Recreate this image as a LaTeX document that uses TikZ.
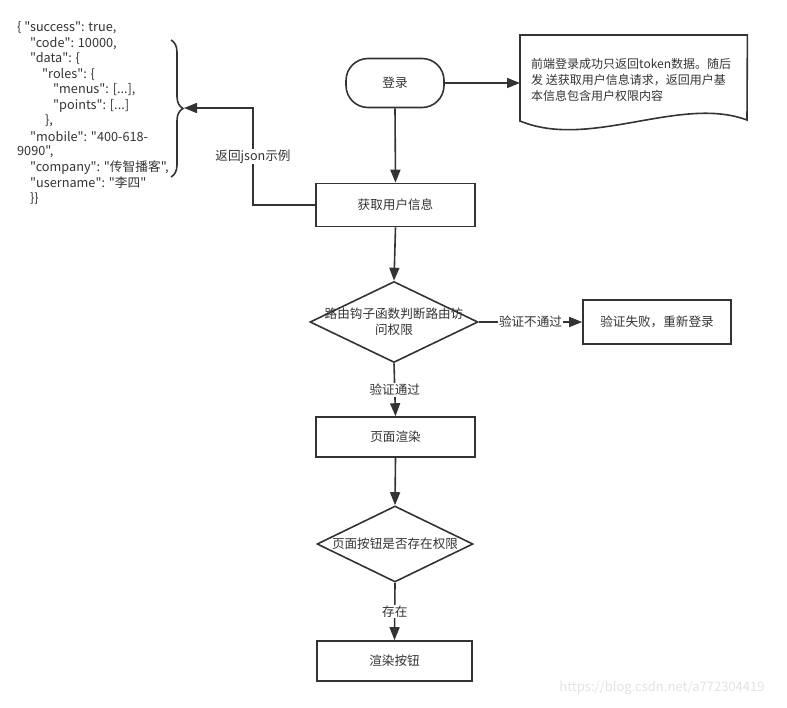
\documentclass[tikz,border=0pt]{standalone}
\usepackage{fontspec}
\setmainfont{Noto Sans CJK SC}[Ligatures=TeXOff]
\usepackage{tikz}
\usetikzlibrary{arrows.meta,shapes.geometric,decorations.pathreplacing}
\definecolor{ink}{HTML}{333333}
\definecolor{faint}{HTML}{E2E2E2}

\begin{document}
\begin{tikzpicture}[x=1pt,y=-1pt,
    every node/.style={font=\fontsize{12.6}{16}\selectfont,text=ink},
    box/.style={draw=ink,line width=1.6pt,rectangle,minimum width=159pt,minimum height=43pt},
    decision/.style={draw=ink,line width=1.6pt,diamond,inner sep=0pt},
    flow/.style={draw=ink,line width=1.6pt,-{Triangle[length=13pt,width=10pt]}},
    tag/.style={fill=white,inner sep=1pt},
    json/.style={anchor=west,inner sep=0pt,font=\fontsize{12.7}{15}\selectfont}]
    \useasboundingbox (0,0) rectangle (787,707);

    % json answer on the left
    \foreach \ind/\txt [count=\i] in {17/{\{ "success": true,}, 30/{"code": 10000,},
        30/{"data": \{}, 42/{"roles": \{}, 53/{"menus": [...],}, 53/{"points": [...]},
        45/{\},}, 30/{"mobile": "400-618-}, 17/{9090",}, 30/{"company": "传智播客",},
        30/{"username": "李四"}, 30/{\}\}}}
      \node[json] (json\i) at (\ind,{28+15.5*(\i-1)}) {\txt};
    \draw[ink,line width=1.6pt,decorate,decoration={brace,amplitude=12pt}] (171,40) -- (171,177);
    \coordinate (bracetip) at (184,108);
    \coordinate (jsonturn) at (253,108);

    % main flow
    \node[box,rounded corners=22pt,minimum width=98pt,minimum height=49pt] (login) at (395,83) {登录};
    \node[minimum width=227pt,minimum height=86pt,anchor=north west] (notice) at (520,35) {};
    \draw[ink,line width=1.6pt] (notice.north west) -- (notice.north east) -- (747,120)
      .. controls (680,95) and (590,150) .. (520,121) -- cycle;
    \node[anchor=west,align=left,inner sep=0pt,font=\fontsize{12}{16}\selectfont] (noticetext) at (531,80)
      {前端登录成功只返回token数据。随后\\发 送获取用户信息请求，返回用户基\\本信息包含用户权限内容};
    \node[box] (info) at (395.5,205) {获取用户信息};
    \node[decision,minimum width=168pt,minimum height=81pt] (check) at (394,322) {};
    \node[align=center,inner sep=0pt] (checktext) at (check.center) {路由钩子函数判断路由访\\问权限};
    \node[box,minimum width=148pt,minimum height=44pt] (fail) at (657,322) {验证失败，重新登录};
    \node[box,minimum height=40pt] (render) at (395.5,437) {页面渲染};
    \node[decision,minimum width=156pt,minimum height=76pt] (btncheck) at (395,544) {};
    \node[inner sep=0pt] (btnchecktext) at (btncheck.center) {页面按钮是否存在权限};
    \node[box,minimum width=155pt,minimum height=40pt] (btnrender) at (394.5,661) {渲染按钮};

    \draw[flow] (login.east) -- (login.east -| notice.west);
    \draw[flow] (login.south) -- (info.north);
    \draw[flow] (info.west) -| (jsonturn) node[tag,pos=0.75] {返回json示例} -- (bracetip);
    \draw[flow] (info.south) -- (check.north);
    \draw[flow] (check.east) -- node[tag] {验证不通过} (fail.west);
    \draw[flow] (check.south) -- node[tag] {验证通过} (render.north);
    \draw[flow] (render.south) -- (btncheck.north);
    \draw[flow] (btncheck.south) -- node[tag] {存在} (btnrender.north);

    \node[text=faint,font=\fontsize{13}{15}\selectfont] (watermark) at (662,688) {https://blog.csdn.net/a772304419};
\end{tikzpicture}
\end{document}
